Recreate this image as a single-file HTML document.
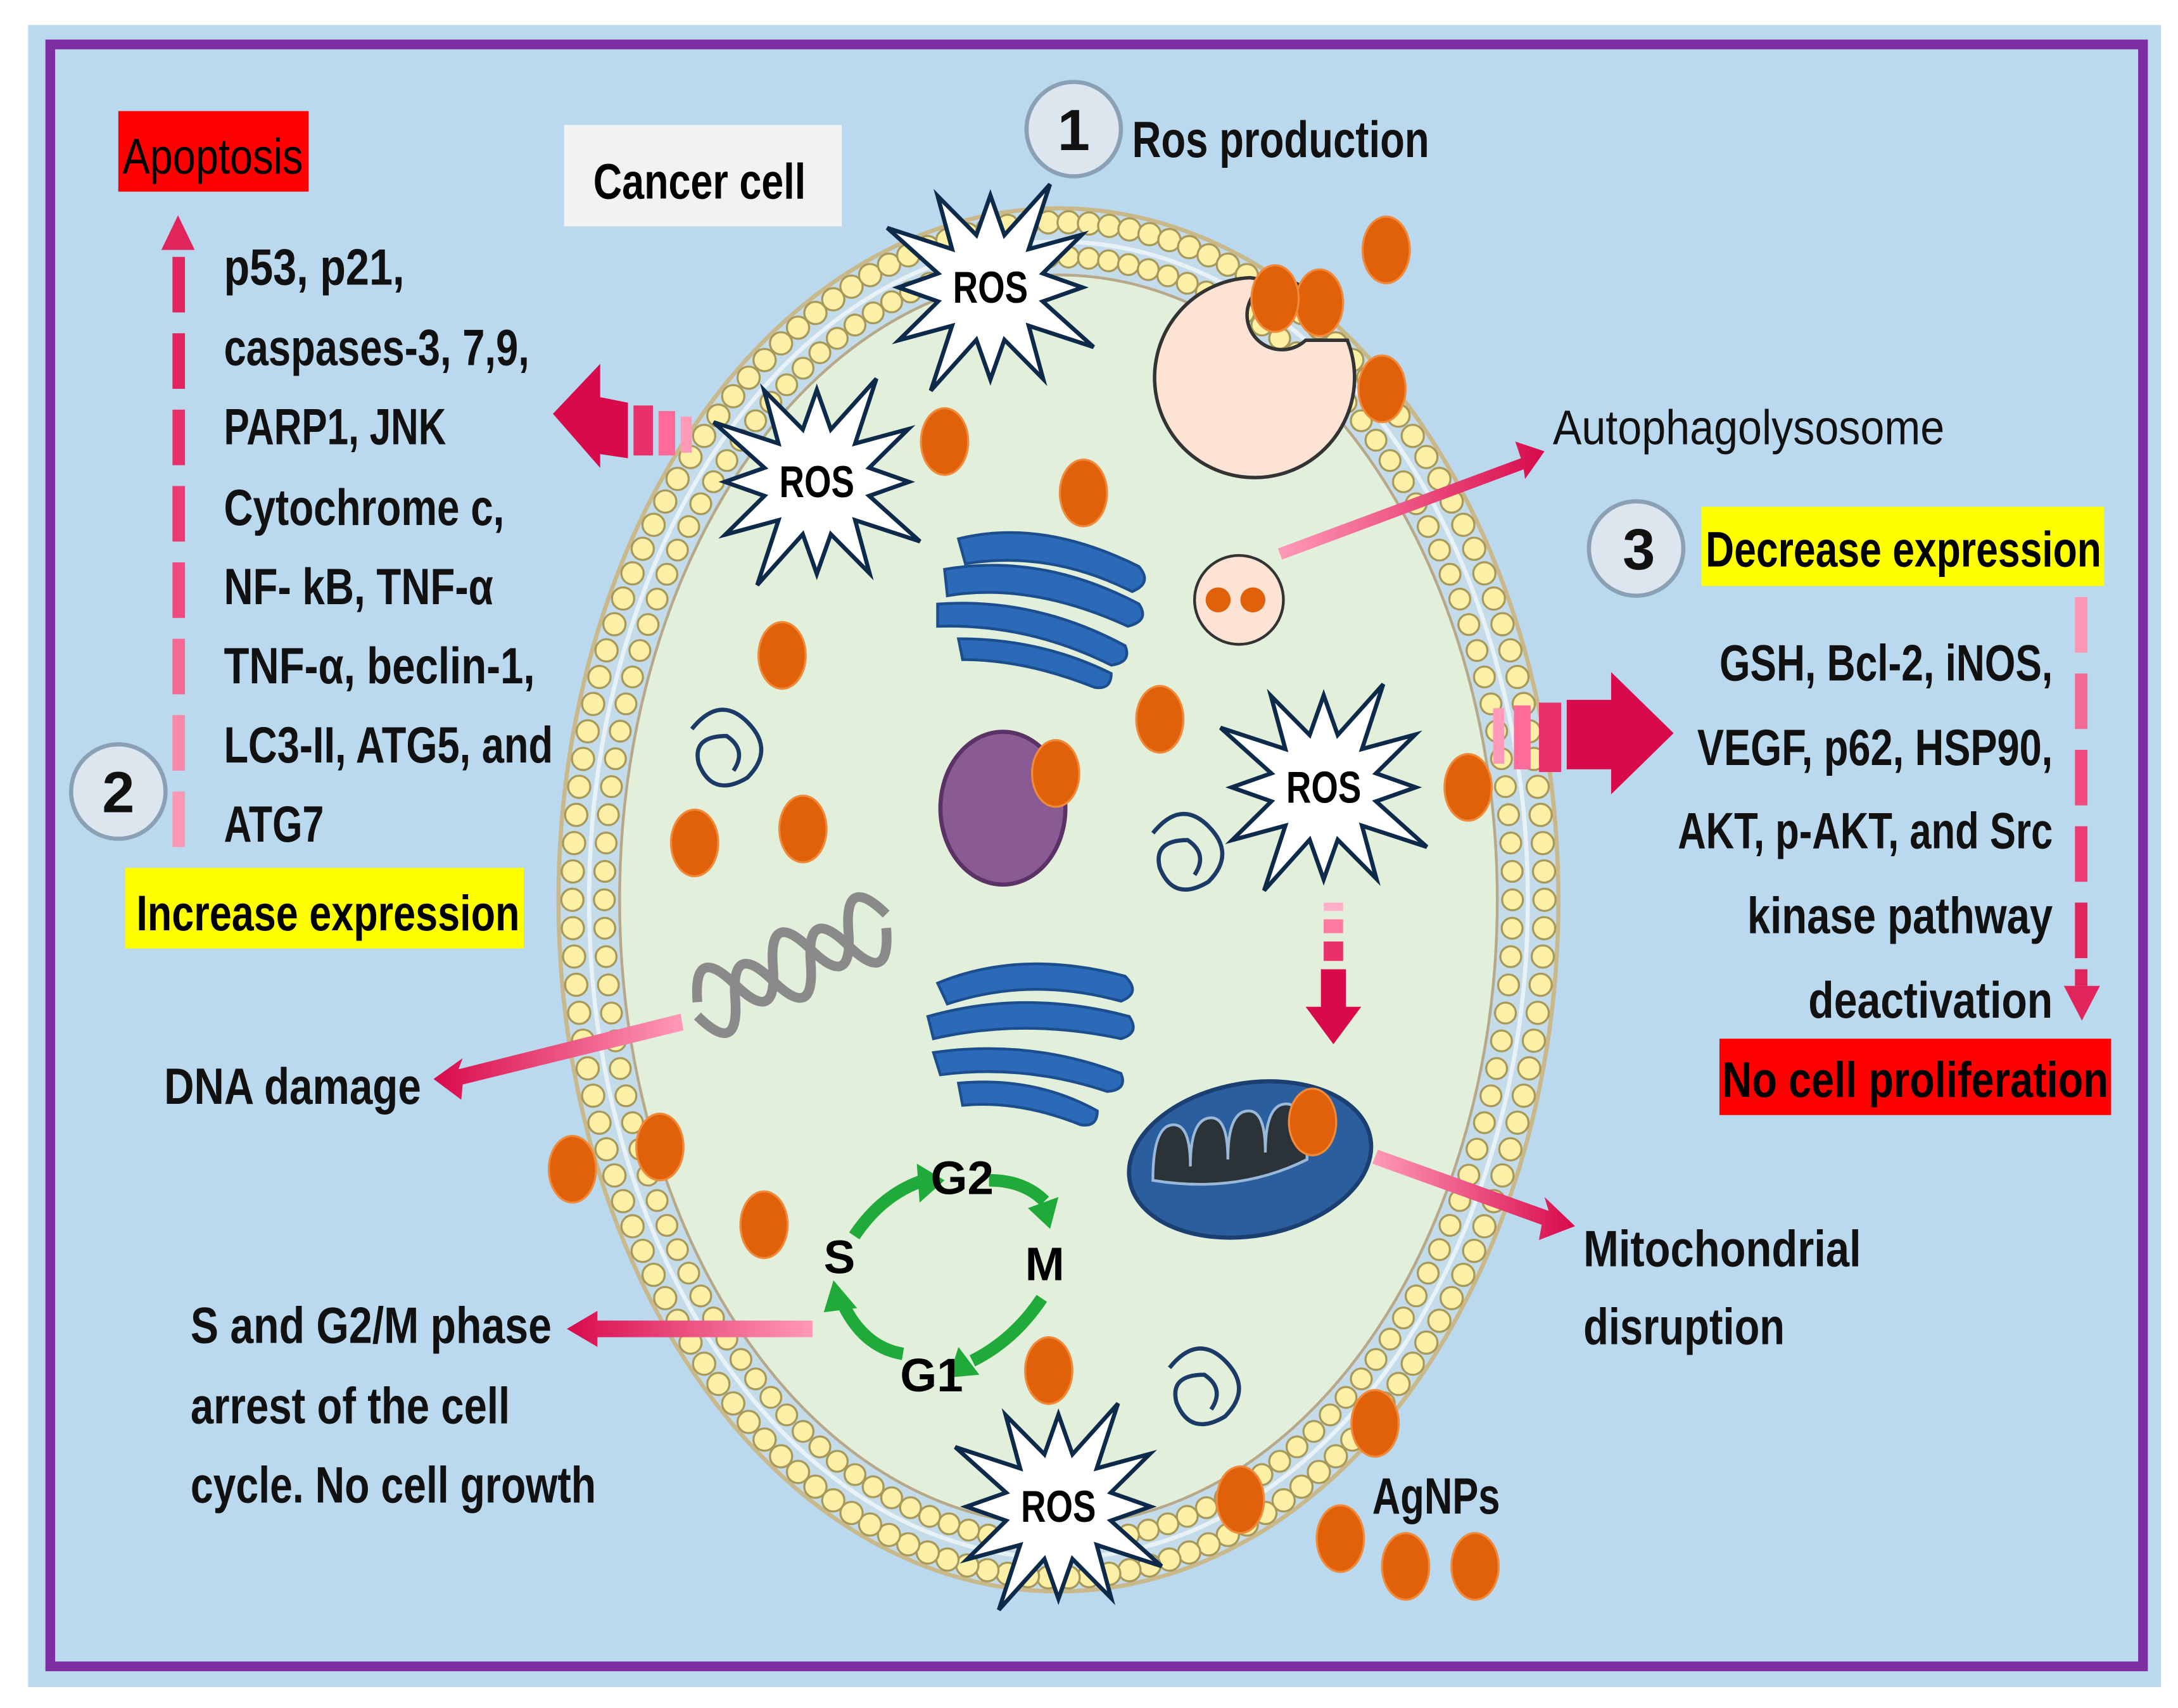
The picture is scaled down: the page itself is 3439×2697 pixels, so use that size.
<!DOCTYPE html>
<html><head><meta charset="utf-8"><style>
html,body{margin:0;padding:0;background:#fff}
svg{display:block}
text{font-family:"Liberation Sans Narrow","Liberation Sans",sans-serif}
.b{font-weight:bold}
</style></head><body>
<svg id="s" width="3439" height="2697" viewBox="0 0 1568 1230" xmlns="http://www.w3.org/2000/svg">
<defs>
<linearGradient id="gl" x1="1" x2="0" y1="0" y2="0"><stop offset="0" stop-color="#ff9ab8"/><stop offset="1" stop-color="#d80a4c"/></linearGradient>
<linearGradient id="gr" x1="0" x2="1" y1="0" y2="0"><stop offset="0" stop-color="#ff9ab8"/><stop offset="1" stop-color="#d80a4c"/></linearGradient>
</defs>
<rect x="0" y="0" width="1568" height="1230" fill="#fff"/>
<rect x="20" y="18" width="1536" height="1197" fill="#bad9ee"/>
<rect x="36" y="32" width="1507" height="1168" fill="none" stroke="#7f2da3" stroke-width="7"/>
<ellipse cx="762" cy="648" rx="360" ry="498" fill="#c4dcea" stroke="#c9b88a" stroke-width="3"/>
<ellipse cx="762" cy="648" rx="316" ry="450" fill="#e1efdb" stroke="#b6a888" stroke-width="2"/>
<ellipse cx="762" cy="648" rx="338" ry="474" fill="none" stroke="#e8f1f6" stroke-width="3"/>
<g id="beads"></g>
<path d="M900 200 A72 72 0 1 0 970 245 L940 245 A25 25 0 1 1 935 205 Z" fill="#fde3d3" stroke="#333" stroke-width="2.5"/>
<circle cx="892" cy="432" r="32" fill="#fde3d3" stroke="#333" stroke-width="2"/>
<circle cx="877" cy="432" r="9" fill="#e0610a"/><circle cx="902" cy="432" r="9" fill="#e0610a"/>
<g fill="#2a6ab8" stroke="#1c4d8c" stroke-width="2">
<path d="M690 388 q60 -15 130 20 q10 12 -5 18 q-60 -30 -120 -20 z"/>
<path d="M680 410 q70 -12 140 25 q8 12 -8 16 q-70 -32 -130 -22 z"/>
<path d="M675 435 q70 -5 135 30 q5 12 -10 14 q-60 -30 -125 -28 z"/>
<path d="M690 460 q60 0 110 25 q0 12 -12 10 q-50 -20 -95 -20 z"/>
<path d="M675 708 q60 -25 135 -5 q12 12 -3 18 q-65 -18 -125 2 z"/>
<path d="M668 732 q70 -20 145 0 q8 12 -6 16 q-70 -15 -135 0 z"/>
<path d="M672 758 q70 -10 135 15 q5 12 -10 13 q-60 -20 -120 -12 z"/>
<path d="M690 780 q55 -5 100 20 q0 12 -12 10 q-45 -18 -85 -14 z"/>
</g>
<ellipse cx="722" cy="582" rx="45" ry="55" fill="#8a5a95" stroke="#5b3266" stroke-width="3"/>
<g fill="none" stroke="#1b3a66" stroke-width="3">
<path d="M498 525 q20 -25 40 -5 q20 20 0 40 q-25 15 -35 -10 q-5 -20 20 -20 q15 10 5 25"/>
<path d="M830 600 q20 -25 40 -5 q20 20 0 40 q-25 15 -35 -10 q-5 -20 20 -20 q15 10 5 25"/>
<path d="M842 985 q20 -25 40 -5 q20 20 0 40 q-25 15 -35 -10 q-5 -20 20 -20 q15 10 5 25"/>
</g>
<g fill="none" stroke="#8a8a8a" stroke-width="7">
<path d="M495 690 q15 -40 30 0 q15 40 30 0 q15 -40 30 0 q15 40 30 0 q15 -40 30 0" transform="rotate(-25 570 690)"/>
<path d="M495 700 q15 40 30 0 q15 -40 30 0 q15 40 30 0 q15 -40 30 0 q15 40 30 0" transform="rotate(-25 570 700)"/>
</g>
<ellipse cx="900" cy="835" rx="88" ry="55" fill="#2a5e9e" stroke="#1a3f70" stroke-width="3" transform="rotate(-10 900 835)"/>
<path d="M830 850 q0 -40 15 -40 q12 0 12 30 q0 -35 15 -35 q12 0 12 30 q0 -35 15 -35 q12 0 12 30 q0 -35 15 -35 q15 0 15 40 q-50 25 -111 15z" fill="#2b3238" stroke="#9ab8d8" stroke-width="2"/>
<g fill="none" stroke="#1faa3a" stroke-width="9">
<path d="M615 890 q20 -30 50 -40"/><path d="M712 850 q25 0 40 15"/><path d="M750 935 q-20 30 -50 45"/><path d="M650 975 q-30 -5 -45 -40"/>
</g>
<g fill="#1faa3a"><polygon points="660,838 680,850 662,866"/><polygon points="740,870 762,862 756,885"/><polygon points="690,970 705,990 683,992"/><polygon points="593,945 600,922 617,942"/></g>
<g class="b" font-size="34" fill="#000">
<text x="670" y="860">G2</text><text x="738" y="922">M</text><text x="648" y="1002">G1</text><text x="593" y="917">S</text>
</g>
<g id="np" fill="#e0610a" stroke="#f08a3a" stroke-width="1.5"></g>
<g id="stars"></g>
<polygon points="920,395 1095,330 1091,318 1112,325 1098,345 1097,338 923,403" fill="url(#gr)"/>
<polygon points="490,730 330,770 333,762 312,777 332,792 333,781 492,742" fill="url(#gl)"/>
<polygon points="585,951 430,951 430,944 408,957 430,970 430,963 585,963" fill="url(#gl)"/>
<polygon points="992,828 1115,872 1112,862 1134,883 1108,893 1110,882 988,838" fill="url(#gr)"/>
<g fill="#d80a4c">
<rect x="953" y="650" width="14" height="6" fill="#ffb0c8"/><rect x="953" y="662" width="14" height="10" fill="#ff7aa0"/><rect x="953" y="678" width="14" height="14" fill="#e8306a"/>
<polygon points="951,698 969,698 969,725 980,725 960,752 940,725 951,725"/>
<rect x="490" y="300" width="8" height="26" fill="#ff9ab8"/><rect x="474" y="296" width="12" height="32" fill="#ff6a98"/><rect x="456" y="292" width="14" height="36" fill="#e8306a"/>
<polygon points="452,290 452,330 432,327 432,337 398,298 432,262 432,286"/>
<rect x="1075" y="510" width="8" height="40" fill="#ff9ab8"/><rect x="1090" y="508" width="12" height="46" fill="#ff6a98"/><rect x="1108" y="506" width="16" height="50" fill="#e8306a"/>
<polygon points="1128,504 1160,504 1160,484 1205,528 1160,572 1160,554 1128,554"/>
</g>
<g fill="#e0245c">
<rect x="124" y="185" width="9" height="40"/><rect x="124" y="240" width="9" height="40"/><rect x="124" y="295" width="9" height="40" fill="#e6306a"/><rect x="124" y="350" width="9" height="40" fill="#ec3a72"/><rect x="124" y="405" width="9" height="40" fill="#f04a7e"/><rect x="124" y="460" width="9" height="40" fill="#f56a92"/><rect x="124" y="515" width="9" height="40" fill="#f888a8"/><rect x="124" y="570" width="9" height="40" fill="#fa98b4"/>
<polygon points="128,155 116,180 140,180"/>
<rect x="1494" y="430" width="9" height="40" fill="#fa98b4"/><rect x="1494" y="485" width="9" height="40" fill="#f56a92"/><rect x="1494" y="540" width="9" height="40" fill="#f04a7e"/><rect x="1494" y="595" width="9" height="40" fill="#ec3a72"/><rect x="1494" y="650" width="9" height="40"/><rect x="1494" y="698" width="9" height="12"/>
<polygon points="1486,710 1512,710 1499,735"/>
</g>
<g>
<circle cx="773" cy="93" r="34" fill="#dde6ee" stroke="#8aa0b4" stroke-width="3"/>
<circle cx="85" cy="570" r="34" fill="#dde6ee" stroke="#8aa0b4" stroke-width="3"/>
<circle cx="1178" cy="395" r="34" fill="#dde6ee" stroke="#8aa0b4" stroke-width="3"/>
</g>
<g class="b" font-size="42" fill="#111" text-anchor="middle"><text x="773" y="108">1</text><text x="85" y="585">2</text><text x="1180" y="410">3</text></g>
<rect x="85" y="80" width="137" height="58" fill="#ff0000"/>
<text x="88" y="125" font-size="36" textLength="130" lengthAdjust="spacingAndGlyphs">Apoptosis</text>
<rect x="406" y="90" width="200" height="73" fill="#f2f2f2"/>
<text class="b" x="427" y="143" font-size="36" textLength="153" lengthAdjust="spacingAndGlyphs">Cancer cell</text>
<rect x="90" y="625" width="287" height="58" fill="#ffff00"/>
<text class="b" x="98" y="670" font-size="36" textLength="276" lengthAdjust="spacingAndGlyphs">Increase expression</text>
<rect x="1225" y="365" width="290" height="57" fill="#ffff00"/>
<text class="b" x="1228" y="408" font-size="36" textLength="285" lengthAdjust="spacingAndGlyphs">Decrease expression</text>
<rect x="1238" y="748" width="282" height="55" fill="#ff0000"/>
<text class="b" x="1240" y="790" font-size="36" textLength="278" lengthAdjust="spacingAndGlyphs">No cell proliferation</text>
<g class="b" font-size="37" fill="#111">
<text x="161" y="205" textLength="130" lengthAdjust="spacingAndGlyphs">p53, p21,</text>
<text x="161" y="263" textLength="220" lengthAdjust="spacingAndGlyphs">caspases-3, 7,9,</text>
<text x="161" y="320" textLength="160" lengthAdjust="spacingAndGlyphs">PARP1, JNK</text>
<text x="161" y="378" textLength="202" lengthAdjust="spacingAndGlyphs">Cytochrome c,</text>
<text x="161" y="435" textLength="194" lengthAdjust="spacingAndGlyphs">NF- kB, TNF-α</text>
<text x="161" y="492" textLength="224" lengthAdjust="spacingAndGlyphs">TNF-α, beclin-1,</text>
<text x="161" y="549" textLength="237" lengthAdjust="spacingAndGlyphs">LC3-II, ATG5, and</text>
<text x="161" y="606" textLength="72" lengthAdjust="spacingAndGlyphs">ATG7</text>
<text x="815" y="113" textLength="214" lengthAdjust="spacingAndGlyphs">Ros production</text>
<text x="118" y="795" textLength="185" lengthAdjust="spacingAndGlyphs">DNA damage</text>
<text x="137" y="967" textLength="260" lengthAdjust="spacingAndGlyphs">S and G2/M phase</text>
<text x="137" y="1025" textLength="230" lengthAdjust="spacingAndGlyphs">arrest of the cell</text>
<text x="137" y="1082" textLength="292" lengthAdjust="spacingAndGlyphs">cycle. No cell growth</text>
<text x="1140" y="912" textLength="200" lengthAdjust="spacingAndGlyphs">Mitochondrial</text>
<text x="1140" y="968" textLength="145" lengthAdjust="spacingAndGlyphs">disruption</text>
<text x="988" y="1090" textLength="92" lengthAdjust="spacingAndGlyphs">AgNPs</text>
<text x="1238" y="490" textLength="240" lengthAdjust="spacingAndGlyphs">GSH, Bcl-2, iNOS,</text>
<text x="1222" y="551" textLength="256" lengthAdjust="spacingAndGlyphs">VEGF, p62, HSP90,</text>
<text x="1208" y="611" textLength="270" lengthAdjust="spacingAndGlyphs">AKT, p-AKT, and Src</text>
<text x="1258" y="672" textLength="220" lengthAdjust="spacingAndGlyphs">kinase pathway</text>
<text x="1302" y="733" textLength="176" lengthAdjust="spacingAndGlyphs">deactivation</text>
</g>
<text x="1118" y="320" font-size="35" fill="#111" textLength="282" lengthAdjust="spacingAndGlyphs">Autophagolysosome</text>
</svg>
<script>
var NS="http://www.w3.org/2000/svg";
function el(p,t,a){var e=document.createElementNS(NS,t);for(var k in a)e.setAttribute(k,a[k]);p.appendChild(e);return e;}
var b=document.getElementById("beads");
function ring(rx,ry,n,r){for(var i=0;i<n;i++){var t=2*Math.PI*i/n;el(b,"circle",{cx:762+rx*Math.cos(t),cy:648+ry*Math.sin(t),r:r,fill:"#fbf0a6",stroke:"#a8995a","stroke-width":1.5});}}
ring(350,488,150,8);ring(327,463,142,7.5);
var np=document.getElementById("np");
[[998,180],[950,218],[918,215],[995,280],[680,318],[780,355],[563,472],[835,518],[760,557],[500,607],[578,597],[1057,567],[412,842],[475,826],[550,882],[945,808],[755,987],[990,1025],[893,1080],[965,1108],[1012,1128],[1062,1128]].forEach(function(p){el(np,"ellipse",{cx:p[0],cy:p[1],rx:17,ry:24});});
var st=document.getElementById("stars");
[[713,207,78],[588,347,78],[953,567,78],[762,1085,78]].forEach(function(s){var pts=[];var n=12;for(var i=0;i<2*n;i++){var r=i%2?s[2]*0.5:s[2]*(0.85+0.25*((i*7)%3)/2);var t=Math.PI*i/n;pts.push((s[0]+r*Math.cos(t)).toFixed(1)+","+(s[1]+r*Math.sin(t)).toFixed(1));}
el(st,"polygon",{points:pts.join(" "),fill:"#fff",stroke:"#0d2a4a","stroke-width":3});
var t=el(st,"text",{x:s[0]-27,y:s[1]+11,"font-size":32,"font-weight":"bold",fill:"#000",textLength:54,lengthAdjust:"spacingAndGlyphs"});t.textContent="ROS";});
</script>
</body></html>
